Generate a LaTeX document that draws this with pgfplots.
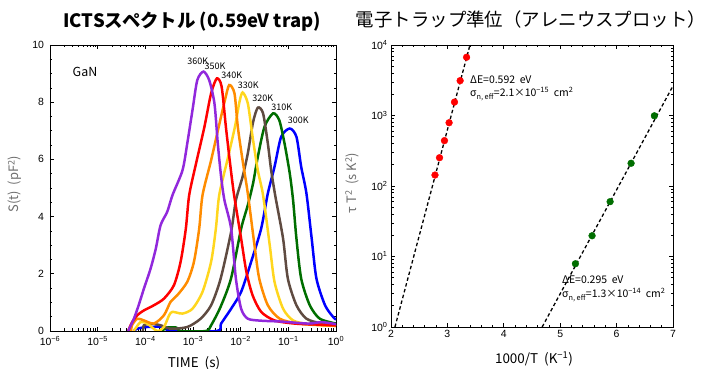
\documentclass[border=0pt]{standalone}
\usepackage{fontspec}
\setmainfont{Noto Sans CJK JP}
\newfontfamily\tickfont{Liberation Sans}
\usepackage{pgfplots}
\usepackage{pgfplotstable}
\pgfplotsset{compat=1.18}
\definecolor{cpurple}{RGB}{145,40,220}
\definecolor{cred}{RGB}{255,0,0}
\definecolor{corange}{RGB}{255,140,0}
\definecolor{cyellow}{RGB}{255,214,30}
\definecolor{cbrown}{RGB}{95,75,65}
\definecolor{cgreen}{RGB}{0,110,0}
\definecolor{cblue}{RGB}{0,0,255}
\definecolor{labgray}{RGB}{110,110,110}

\pgfplotstableread{
lx s
-4.36 0
-4.24 0.43
-4.14 0.90
-4.03 1.48
-3.89 2.18
-3.78 2.88
-3.68 3.70
-3.54 4.17
-3.43 4.75
-3.22 5.62
-3.12 6.56
-3.01 7.73
-2.91 8.77
-2.78 9.07
-2.66 8.77
-2.55 7.96
-2.48 6.56
-2.41 5.39
-2.34 4.57
-2.20 3.58
-2.10 1.83
-1.99 0.78
-1.85 0.43
-1.57 0.36
-1.15 0.33
-0.58 0.26
-0.30 0.31
0.0 0.24
}\tPurple

\pgfplotstableread{
lx s
-4.36 0
-4.28 0.30
-4.17 0.55
-4.03 0.72
-3.82 0.90
-3.61 1.13
-3.40 1.60
-3.26 2.42
-3.15 3.58
-3.08 4.75
-2.93 5.90
-2.76 7.14
-2.62 8.31
-2.50 8.83
-2.40 8.55
-2.31 7.14
-2.23 5.97
-2.14 4.78
-1.99 3.23
-1.88 2.07
-1.75 1.25
-1.57 0.67
-1.29 0.37
-0.87 0.26
-0.30 0.22
0.0 0.20
}\tRed

\pgfplotstableread{
lx s
-4.30 0
-4.28 0.20
-4.17 0.43
-4.03 0.37
-3.82 0.26
-3.61 0.55
-3.47 1.02
-3.33 1.25
-3.12 1.72
-2.98 2.42
-2.87 3.58
-2.80 4.75
-2.62 5.97
-2.46 7.14
-2.33 8.07
-2.24 8.60
-2.13 8.31
-2.06 7.14
-1.96 5.97
-1.85 4.81
-1.71 3.00
-1.61 1.83
-1.43 0.90
-1.18 0.43
-0.80 0.26
-0.30 0.20
0.0 0.18
}\tOrange

\pgfplotstableread{
lx s
-4.25 0
-4.21 0.08
-4.10 0.31
-3.96 0.26
-3.75 0.0
-3.61 0.14
-3.50 0.55
-3.43 0.67
-3.22 0.61
-3.01 0.78
-2.80 1.37
-2.62 2.42
-2.52 3.58
-2.45 4.75
-2.28 5.97
-2.12 7.14
-2.03 7.97
-1.96 8.34
-1.85 7.96
-1.75 6.79
-1.64 5.62
-1.53 4.75
-1.39 3.00
-1.29 1.72
-1.11 0.78
-0.90 0.37
-0.58 0.24
0.0 0.18
}\tYellow

\pgfplotstableread{
lx s
-4.05 0
-4.03 0.20
-3.89 0.26
-3.68 0.20
-3.47 0.08
-3.12 0.14
-2.84 0.43
-2.62 0.90
-2.42 1.83
-2.20 3.47
-2.10 4.57
-1.96 5.39
-1.85 6.21
-1.74 7.30
-1.64 7.81
-1.53 7.61
-1.43 6.56
-1.36 5.62
-1.27 4.69
-1.11 3.23
-1.01 1.83
-0.83 0.90
-0.62 0.43
-0.30 0.26
0.0 0.20
}\tBrown

\pgfplotstableread{
lx s
-3.65 0
-3.55 0.12
-3.35 0.12
-3.25 0
-2.73 0
-2.62 0.20
-2.42 0.85
-2.20 1.85
-1.99 3.58
-1.85 4.40
-1.74 5.16
-1.64 6.09
-1.50 7.14
-1.32 7.61
-1.19 7.37
-1.08 6.56
-0.97 5.51
-0.90 4.57
-0.83 3.23
-0.73 1.83
-0.55 0.90
-0.34 0.43
0.0 0.26
}\tGreen

\pgfplotstableread{
lx s
-4.25 0
-4.17 0.08
-3.96 0.14
-3.61 0.14
-3.47 0
-2.50 0
-2.41 0.26
-2.20 0.78
-1.99 1.37
-1.78 2.42
-1.57 3.58
-1.43 4.81
-1.29 5.74
-1.15 6.79
-0.97 7.08
-0.83 6.79
-0.73 5.74
-0.62 4.81
-0.51 3.23
-0.41 1.83
-0.23 0.90
-0.06 0.49
0.0 0.40
}\tBlue

\pgfplotstableread{
x y
2.78 143
2.86 252
2.948 440
3.03 790
3.126 1550
3.226 3120
3.34 6700
}\tArrA

\pgfplotstableread{
x y
5.27 7.9
5.565 19.7
5.885 60
6.257 210
6.67 990
}\tArrB

\begin{document}
\begin{tikzpicture}[x=1bp,y=1bp]
\useasboundingbox (0bp,0bp) rectangle (705bp,369bp);
\pgfplotsset{
  common/.style={
    scale only axis,
    axis line style={black, line width=0.9pt},
    tick style={black, line width=0.7pt},
    major tick length=4bp,
    minor tick length=2.5bp,
    tick align=inside,
    xtick pos=both, ytick pos=both,
    ticklabel style={font=\tickfont\fontsize{10.5}{11}\selectfont},
    /pgf/number format/assume math mode=true,
  },
  curve/.style={line width=2.5pt, smooth, tension=0.45},
}
\begin{axis}[common,
  at={(50bp,38bp)}, anchor=south west,
  width=286bp, height=286bp,
  xmode=log, xmin=1e-6, xmax=1,
  ymin=0, ymax=10,
  xtick={1e-6,1e-5,1e-4,1e-3,1e-2,1e-1,1},
  xticklabels={10\textsuperscript{−6},10\textsuperscript{−5},10\textsuperscript{−4},10\textsuperscript{−3},10\textsuperscript{−2},10\textsuperscript{−1},10\textsuperscript{0}},
  xticklabel style={yshift=-2bp},
  yticklabel style={xshift=-2.5bp},
  ytick={0,2,4,6,8,10},
  minor y tick num=3,
]
\addplot[cblue, curve] table[x expr={10^(\thisrow{lx})}, y=s] {\tBlue};
\addplot[cgreen, curve] table[x expr={10^(\thisrow{lx})}, y=s] {\tGreen};
\addplot[cbrown, curve] table[x expr={10^(\thisrow{lx})}, y=s] {\tBrown};
\addplot[cyellow, curve] table[x expr={10^(\thisrow{lx})}, y=s] {\tYellow};
\addplot[corange, curve] table[x expr={10^(\thisrow{lx})}, y=s] {\tOrange};
\addplot[cred, curve] table[x expr={10^(\thisrow{lx})}, y=s] {\tRed};
\addplot[cpurple, curve] table[x expr={10^(\thisrow{lx})}, y=s] {\tPurple};
\end{axis}

\begin{axis}[common,
  at={(391bp,42bp)}, anchor=south west,
  width=282bp, height=282bp,
  xmin=2, xmax=7, ymode=log, ymin=1, ymax=10000,
  xtick={2,3,4,5,6,7},
  minor x tick num=4,
  ytick={1,10,100,1000,10000},
  yticklabels={10\textsuperscript{0},10\textsuperscript{1},10\textsuperscript{2},10\textsuperscript{3},10\textsuperscript{4}},
]
\addplot[black, line width=1.3pt, dash pattern=on 3.5pt off 2.5pt] coordinates {(2.07,1) (3.40,10000)};
\addplot[black, line width=1.3pt, dash pattern=on 3.5pt off 2.5pt] coordinates {(4.68,1) (7.0,2630)};
\addplot[only marks, mark=*, mark size=3.4pt, cred, mark options={draw=cred, fill=cred}] table[x=x,y=y] {\tArrA};
\addplot[only marks, mark=*, mark size=3.4pt, cgreen, mark options={draw=cgreen, fill=cgreen}] table[x=x,y=y] {\tArrB};
\end{axis}

% titles and labels
\node at (192bp,347bp) {\fontsize{18.5}{20}\selectfont\bfseries ICTSスペクトル (0.59eV trap)};
\node at (531bp,349bp) {\fontsize{18.5}{20}\selectfont 電子トラップ準位（アレニウスプロット）};
\node at (85bp,297bp) {\fontsize{12.5}{14}\selectfont GaN};
\begin{scope}[every node/.style={font=\fontsize{9}{10}\selectfont, inner sep=0pt}]
\node at (197.7bp,308bp) {360K};
\node at (215bp,302.3bp) {350K};
\node at (231.7bp,294bp) {340K};
\node at (248.3bp,284bp) {330K};
\node at (262.7bp,270.7bp) {320K};
\node at (281.7bp,261.3bp) {310K};
\node at (298.3bp,248.3bp) {300K};
\end{scope}
\node[rotate=90, text=labgray] at (15bp,185bp) {\fontsize{13}{14}\selectfont S(t)\ \ (pF\textsuperscript{2})};
\node[rotate=90, text=labgray] at (352bp,186bp) {\fontsize{13}{14}\selectfont τ\ T\textsuperscript{2}\ \ (s\ K\textsuperscript{2})};
\node at (194bp,6bp) {\fontsize{13.5}{14}\selectfont TIME\ \ (s)};
\node at (534bp,10bp) {\fontsize{13.5}{14}\selectfont 1000/T\ \ (K\textsuperscript{−1})};
\begin{scope}[every node/.style={font=\fontsize{10.5}{11}\selectfont, inner sep=0pt, anchor=west}]
\node at (470bp,289bp) {ΔE=0.592\ \ eV};
\node at (470bp,275bp) {σ\textsubscript{n, eff}=2.1×10\textsuperscript{−15}\ \ cm\textsuperscript{2}};
\node at (562bp,89bp) {ΔE=0.295\ \ eV};
\node at (562bp,74bp) {σ\textsubscript{n, eff}=1.3×10\textsuperscript{−14}\ \ cm\textsuperscript{2}};
\end{scope}
\end{tikzpicture}
\end{document}
